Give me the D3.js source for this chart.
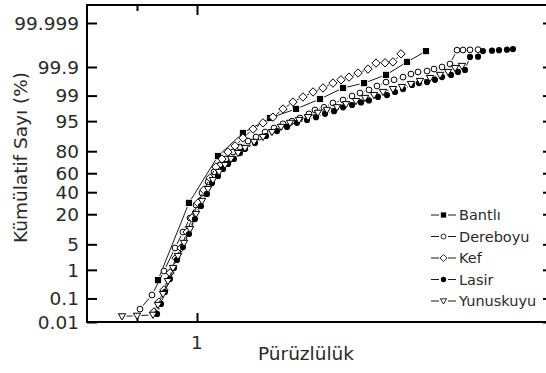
<!DOCTYPE html>
<html><head><meta charset="utf-8">
<script src="https://cdn.jsdelivr.net/npm/d3@7"></script>
<style>
body{margin:0;background:#fff}
svg{display:block}
text{font-family:"DejaVu Sans",Verdana,sans-serif;fill:#2a2a2a}
</style>
</head><body>
<svg id="c" width="546" height="373"></svg>
<script>
// ---------- data (x: Pürüzlülük, p: cumulative %) ----------
const seriesNames = ["Bantlı","Dereboyu","Kef","Lasir","Yunuskuyu"];

const bantliX = [0.675,0.933,1.175,1.383,1.608,1.825,2.025,2.217,2.392,2.575,2.75,2.908];
const bantliP = [0.466,29.5,76.2,90.8,95.8,97.56,98.73,99.43,99.61,99.80,99.937,99.978];

const dereboyuX = [0.525,0.625,0.725,0.817,0.883,0.942,0.992,1.042,1.092,1.142,1.192,1.242,1.30,1.358,1.425,1.492,1.567,1.642,1.717,1.792,1.858,1.933,1.983,2.058,2.133,2.217,2.292,2.358,2.433,2.50,2.575,2.642,2.717,2.783,2.842,2.917,2.975,3.042,3.108,3.167,3.217,3.275,3.342];
const dereboyuP = [0.037,0.136,0.92,4.07,9.4,17.3,27.6,39.2,50.8,61.3,68.2,73.7,79.4,83.0,86.7,88.9,91.2,92.8,94.2,95.0,95.8,96.7,97.4,97.8,98.34,98.64,98.97,99.17,99.34,99.51,99.64,99.70,99.76,99.815,99.845,99.857,99.88,99.90,99.924,99.980,99.9803,99.9806,99.981];

const kefX = [0.642,0.683,0.725,0.775,0.825,0.867,0.917,0.958,1.008,1.058,1.108,1.158,1.208,1.258,1.317,1.383,1.467,1.55,1.633,1.717,1.8,1.883,1.967,2.05,2.133,2.2,2.267,2.342,2.425,2.492,2.567,2.633,2.7];
const kefP = [0.028,0.072,0.21,0.80,2.22,4.07,9.4,17.3,29.4,42.3,55.0,66.3,73.7,79.4,83.7,88.4,92.4,94.5,96.0,97.55,98.44,98.90,99.23,99.43,99.61,99.70,99.76,99.83,99.88,99.930,99.932,99.937,99.971];

const lasirX = [0.667,0.70,0.733,0.775,0.808,0.833,0.883,0.933,0.983,1.033,1.083,1.125,1.175,1.217,1.258,1.308,1.358,1.40,1.483,1.575,1.667,1.75,1.833,1.917,1.992,2.067,2.142,2.217,2.292,2.367,2.433,2.508,2.583,2.65,2.717,2.792,2.85,2.917,2.983,3.042,3.117,3.175,3.233,3.275,3.342,3.383,3.458,3.517,3.583,3.633];
const lasirP = [0.023,0.060,0.176,0.51,1.14,1.96,4.31,8.55,16.6,26.7,38.2,49.7,57.1,64.3,69.2,73.7,78.6,81.6,85.6,89.4,91.6,93.2,94.5,95.3,96.0,96.7,97.2,97.8,98.1,98.4,98.6,98.9,99.04,99.23,99.38,99.55,99.61,99.64,99.70,99.76,99.80,99.845,99.87,99.961,99.962,99.978,99.979,99.980,99.981,99.982];

const yunuskuyuX = [0.375,0.50,0.633,0.675,0.717,0.758,0.80,0.842,0.892,0.942,0.992,1.042,1.092,1.133,1.183,1.233,1.283,1.342,1.40,1.475,1.55,1.625,1.70,1.775,1.85,1.925,2.008,2.083,2.167,2.242,2.325,2.40,2.475,2.55,2.633,2.708,2.783,2.858,2.942,3.025,3.092,3.15,3.208];
const yunuskuyuP = [0.018,0.019,0.021,0.055,0.148,0.43,1.14,2.52,5.4,10.8,20.2,31.3,43.3,52.9,61.3,68.2,73.7,78.6,82.3,86.2,88.9,91.2,93.2,94.5,95.3,96.0,96.9,97.4,97.8,98.2,98.54,98.82,99.04,99.23,99.38,99.47,99.58,99.67,99.74,99.80,99.845,99.89,99.909];

const yTickValues = [0.01,0.1,1,5,20,40,60,80,95,99,99.9,99.999];
const yTickLabels = ["0.01","0.1","1","5","20","40","60","80","95","99","99.9","99.999"];
const xTickValues = [1];
const xTickLabels = ["1"];
const xMinorTicks = [0.5];

// ---------- helpers ----------
function probit(p){
  const a=[-3.969683028665376e+01,2.209460984245205e+02,-2.759285104469687e+02,1.383577518672690e+02,-3.066479806614716e+01,2.506628277459239e+00];
  const b=[-5.447609879822406e+01,1.615858368580409e+02,-1.556989798598866e+02,6.680131188771972e+01,-1.328068155288572e+01];
  const c=[-7.784894002430293e-03,-3.223964580411365e-01,-2.400758277161838e+00,-2.549732539343734e+00,4.374664141464968e+00,2.938163982698783e+00];
  const d=[7.784695709041462e-03,3.224671290700398e-01,2.445134137142996e+00,3.754408661907416e+00];
  const pl=0.02425, ph=1-pl; let q,r;
  if(p<pl){q=Math.sqrt(-2*Math.log(p));return (((((c[0]*q+c[1])*q+c[2])*q+c[3])*q+c[4])*q+c[5])/((((d[0]*q+d[1])*q+d[2])*q+d[3])*q+1);}
  if(p<=ph){q=p-0.5;r=q*q;return (((((a[0]*r+a[1])*r+a[2])*r+a[3])*r+a[4])*r+a[5])*q/(((((b[0]*r+b[1])*r+b[2])*r+b[3])*r+b[4])*r+1);}
  q=Math.sqrt(-2*Math.log(1-p));return -(((((c[0]*q+c[1])*q+c[2])*q+c[3])*q+c[4])*q+c[5])/((((d[0]*q+d[1])*q+d[2])*q+d[3])*q+1);
}

const L=87, R=553, T=5, B=322;
const svg = d3.select("#c");
const x = d3.scaleLinear().domain([0.5,1]).range([137,197]);
const yz = d3.scaleLinear().domain([probit(0.0001), probit(0.99999)]).range([B, 23]);
const y = p => yz(probit(p/100));

// ---------- frame & ticks ----------
const zTicks = yTickValues.map(v=>probit(v/100));
function styleAxis(g){ g.select(".domain").remove(); g.selectAll(".tick line").attr("stroke","#000").attr("stroke-width",2); g.selectAll(".tick text").remove(); }
svg.append("g").attr("transform",`translate(${L},0)`).call(d3.axisLeft(yz).tickValues(zTicks).tickSize(-10).tickFormat("")).call(styleAxis);
svg.append("g").attr("transform",`translate(${R},0)`).call(d3.axisRight(yz).tickValues(zTicks).tickSize(-10).tickFormat("")).call(styleAxis);
svg.append("g").attr("transform",`translate(0,${B})`).call(d3.axisBottom(x).tickValues(xTickValues).tickSize(-9).tickFormat("")).call(styleAxis);
svg.append("g").attr("transform",`translate(0,${B})`).call(d3.axisBottom(x).tickValues(xMinorTicks).tickSize(-6).tickFormat("")).call(styleAxis);
svg.append("g").attr("transform",`translate(0,${T})`).call(d3.axisTop(x).tickValues(xTickValues).tickSize(-10).tickFormat("")).call(styleAxis);
svg.append("g").attr("transform",`translate(0,${T})`).call(d3.axisTop(x).tickValues(xMinorTicks).tickSize(-6).tickFormat("")).call(styleAxis);
svg.append("rect").attr("x",L).attr("y",T).attr("width",R-L).attr("height",B-T)
   .attr("fill","none").attr("stroke","#000").attr("stroke-width",2);

// tick labels
const fs = 18.5;
svg.append("g").selectAll("text").data(yTickValues).join("text")
  .attr("x",79).attr("y",(d)=>y(d)+fs*0.36).attr("text-anchor","end")
  .attr("font-size",fs).text((d,i)=>yTickLabels[i]);
svg.append("g").selectAll("text").data(xTickValues).join("text")
  .attr("x",d=>x(d)).attr("y",349).attr("text-anchor","middle")
  .attr("font-size",fs).text((d,i)=>xTickLabels[i]);
svg.append("text").attr("x",306).attr("y",360).attr("text-anchor","middle")
  .attr("font-size",fs).text("Pürüzlülük");
svg.append("text").attr("transform","translate(27,157.5) rotate(-90)").attr("text-anchor","middle")
  .attr("font-size",fs).text("Kümülatif Sayı (%)");

// ---------- markers ----------
const markers = {
  "Bantlı":   g=>g.append("path").attr("d","M-3.1,-3.1h6.2v6.2h-6.2z").attr("fill","#000"),
  "Dereboyu": g=>g.append("circle").attr("r",2.9).attr("fill","#fff").attr("stroke","#000").attr("stroke-width",1),
  "Kef":      g=>g.append("path").attr("d","M0,-4.2L4.2,0L0,4.2L-4.2,0Z").attr("fill","#fff").attr("stroke","#000").attr("stroke-width",1),
  "Lasir":    g=>g.append("circle").attr("r",3.1).attr("fill","#000"),
  "Yunuskuyu":g=>g.append("path").attr("d","M-3.7,-2.6L3.7,-2.6L0,3.6Z").attr("fill","#fff").attr("stroke","#000").attr("stroke-width",1)
};
const seriesData = {
  "Bantlı":[bantliX,bantliP], "Dereboyu":[dereboyuX,dereboyuP], "Kef":[kefX,kefP],
  "Lasir":[lasirX,lasirP], "Yunuskuyu":[yunuskuyuX,yunuskuyuP]
};
const gap = 4.5;
function segs(pts,g){
  const out=[];
  for(let i=1;i<pts.length;i++){
    const [x1,y1]=pts[i-1],[x2,y2]=pts[i];
    const dx=x2-x1,dy=y2-y1,Ln=Math.hypot(dx,dy);
    if(Ln>2*g){const ux=dx/Ln,uy=dy/Ln; out.push([x1+ux*g,y1+uy*g,x2-ux*g,y2-uy*g]);}
  }
  return out;
}
const plot = svg.append("g");
seriesNames.forEach(name=>{
  const [xs,ps]=seriesData[name];
  const pts = xs.map((v,i)=>[x(v),y(ps[i])]);
  const g = plot.append("g");
  g.selectAll("line").data(segs(pts,gap)).join("line")
    .attr("x1",d=>d[0]).attr("y1",d=>d[1]).attr("x2",d=>d[2]).attr("y2",d=>d[3])
    .attr("stroke","#000").attr("stroke-width",0.9);
  pts.forEach(p=>{ const m=g.append("g").attr("transform",`translate(${p[0]},${p[1]})`); markers[name](m); });
});

// ---------- legend ----------
const lg = svg.append("g");
seriesNames.forEach((name,i)=>{
  const ly = 215 + i*21.5, mx = 443.5;
  lg.append("line").attr("x1",431).attr("x2",mx-gap).attr("y1",ly).attr("y2",ly).attr("stroke","#000").attr("stroke-width",0.9);
  lg.append("line").attr("x1",mx+gap).attr("x2",456).attr("y1",ly).attr("y2",ly).attr("stroke","#000").attr("stroke-width",0.9);
  markers[name](lg.append("g").attr("transform",`translate(${mx},${ly}) scale(0.85)`));
  lg.append("text").attr("x",459).attr("y",ly+14.5*0.36).attr("font-size",14.5).text(name);
});
</script>
</body></html>
